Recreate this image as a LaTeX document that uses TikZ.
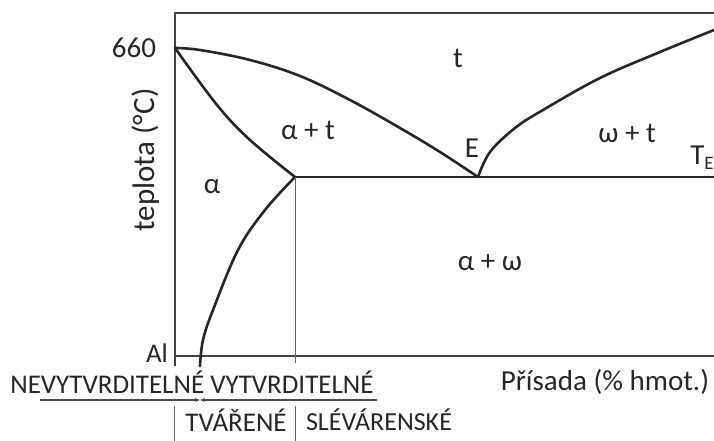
\documentclass[tikz,border=0pt]{standalone}
\usepackage{fontspec}
\setmainfont{Carlito}
\usetikzlibrary{arrows.meta}
\begin{document}
\begin{tikzpicture}[x=1pt,y=-1pt,
  lbl/.style={font=\fontsize{29}{33}\selectfont, text=black!85, inner sep=0pt},
  blbl/.style={font=\fontsize{27}{31}\selectfont, text=black!85, inner sep=0pt},
  ax/.style={line width=2pt, draw=black!75},
  phase/.style={line width=2.6pt, draw=black!85, line cap=round, line join=round},
  thinline/.style={line width=1pt, draw=black!60},
  uline/.style={line width=1.6pt, draw=black!70}]
\useasboundingbox (0,0) rectangle (714,441);
% key points
\coordinate (TL) at (175,13);
\coordinate (TR) at (714,13);
\coordinate (BL) at (175,366);
\coordinate (O) at (175,356);
\coordinate (BR) at (714,356);
\coordinate (M) at (175,48);
\coordinate (P) at (295,177);
\coordinate (E) at (478,177);
\coordinate (TEr) at (714,177);
\coordinate (S) at (200,366);
\coordinate (Pb) at (295,363);
\coordinate (R) at (714,30);
% frame and axis
\draw[ax] (TR) -- (TL) -- (BL);
\draw[ax] (O) -- (BR);
% phase lines
\draw[phase] plot[smooth, tension=0.6] coordinates {(175,48) (200,50) (250,60) (300,76) (350,100) (400,128) (440,152) (478,177)};
\draw[phase] plot[smooth, tension=0.6] coordinates {(175,48) (217,105) (250,140) (295,177)};
\draw[phase] plot[smooth, tension=0.6] coordinates {(295,177) (265,210) (238,250) (213,310) (203,340) (200,366)};
\draw[phase] plot[smooth, tension=0.6] coordinates {(478,177) (490,152) (515,128) (543,110) (600,78) (660,52) (714,30)};
\draw[phase] (P) -- (TEr);
\draw[thinline] (P) -- (Pb);
% labels
\node[lbl] (l660) at (134,48) {660};
\node[blbl] (lAl) at (157,353) {Al};
\node[lbl, font=\fontsize{31}{35}\selectfont, rotate=90] (ly) at (146,160) {teplota (°C)};
\node[lbl] (lt) at (458,58) {t};
\node[lbl] (lat) at (308,130) {α + t};
\node[lbl] (lE) at (472,148) {E};
\node[lbl] (lwt) at (627,133) {ω + t};
\node[lbl] (lTE) at (702,158) {T\raisebox{-0.35ex}{\fontsize{19}{19}\selectfont E}};
\node[lbl] (la) at (212,187) {α};
\node[lbl] (law) at (490,263) {α + ω};
\node[blbl] (lnv) at (192,382) {NEVYTVRDITELNÉ VYTVRDITELNÉ};
\node[lbl] (lps) at (605,382) {Přísada (\% hmot.)};
\node[blbl] (ltv) at (236,420) {TVÁŘENÉ};
\node[blbl, font=\fontsize{26}{30}\selectfont] (lsl) at (379,420) {SLÉVÁRENSKÉ};
% underline with arrows
\coordinate (u1) at (40,400);
\coordinate (u2) at (377,400);
\coordinate (um) at (200,400);
\draw[uline, -{Stealth[length=5pt,width=4pt]}] (u1) -- (um);
\draw[uline, -{Stealth[length=5pt,width=4pt]}] (u2) -- (um);
% separators
\coordinate (s1a) at (174,406);
\coordinate (s1b) at (174,441);
\coordinate (s2a) at (295,406);
\coordinate (s2b) at (295,441);
\draw[thinline] (s1a) -- (s1b);
\draw[thinline] (s2a) -- (s2b);
\end{tikzpicture}
\end{document}
